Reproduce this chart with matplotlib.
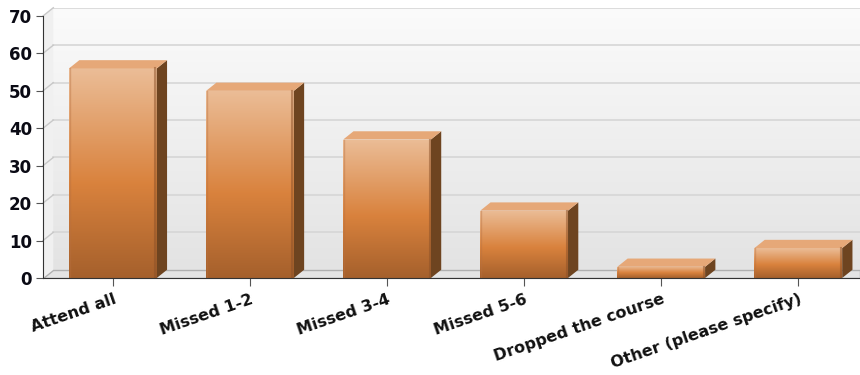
import numpy as np
import matplotlib
matplotlib.use('Agg')
import matplotlib.pyplot as plt
from matplotlib.patches import Polygon
from matplotlib.colors import LinearSegmentedColormap

# datos del grafico
categorias = ['Attend all', 'Missed 1-2', 'Missed 3-4', 'Missed 5-6',
              'Dropped the course', 'Other (please specify)']
valores = [56, 50, 37, 18, 3, 8]
y_ticks = [0, 10, 20, 30, 40, 50, 60, 70]

# figura 860x375
fig = plt.figure(figsize=(8.6, 3.75), dpi=100)
x_ini, x_fin = -0.51, 5.45
y_max = 70
dx, dy = 0.075, 2.2   # profundidad del efecto 3D
ax = fig.add_axes([43 / 860, (375 - 278) / 375, (860 - 43) / 860,
                   (y_max + dy) * 3.743 / 375])
ax.set_xlim(x_ini, x_fin)
ax.set_ylim(0, y_max + dy)
ax.set_facecolor('white')

# pared del fondo con degradado
pared = np.linspace(0, 1, 256).reshape(-1, 1)
cmap_pared = LinearSegmentedColormap.from_list('pared', ['#e3e3e3', '#fbfbfb'])
ax.imshow(pared, extent=[x_ini + dx, x_fin, dy, y_max + dy], origin='lower',
          aspect='auto', cmap=cmap_pared, zorder=0)

# lineas de la cuadricula en la pared y en el lado izquierdo
for t in y_ticks[1:]:
    ax.plot([x_ini + dx, x_fin], [t + dy, t + dy], color='#d6d6d6', lw=1.2, zorder=1)
    ax.plot([x_ini, x_ini + dx], [t, t + dy], color='#c8c8c8', lw=1, zorder=1, clip_on=False)
ax.add_patch(Polygon([[x_ini, 0], [x_ini + dx, dy], [x_ini + dx, y_max + dy], [x_ini, y_max]],
                     closed=True, facecolor='#f0f0f0', edgecolor='none', zorder=0.5))

# piso
ax.add_patch(Polygon([[x_ini, 0], [x_fin, 0], [x_fin, dy], [x_ini + dx, dy]],
                     closed=True, facecolor='#e4e4e4', edgecolor='#b0b0b0', lw=1, zorder=1))

# barras con degradado
cmap_barra = LinearSegmentedColormap.from_list(
    'barra', [(0, '#a5602c'), (0.45, '#d9823d'), (1, '#ebbd97')])
ancho = 0.64
x = np.arange(len(categorias))
barras = ax.bar(x, valores, width=ancho, color='none', zorder=3)
grad = np.linspace(0, 1, 256).reshape(-1, 1)
for b, v in zip(barras, valores):
    x0 = b.get_x()
    x1 = x0 + b.get_width()
    img = ax.imshow(grad, extent=[x0, x1, 0, v], origin='lower', aspect='auto',
                    cmap=cmap_barra, zorder=3)
    img.set_clip_path(b)
    # cara lateral
    ax.add_patch(Polygon([[x1, 0], [x1 + dx, dy], [x1 + dx, v + dy], [x1, v]],
                         closed=True, facecolor='#6e4420', edgecolor='none', zorder=3))
    # cara superior
    ax.add_patch(Polygon([[x0, v], [x1, v], [x1 + dx, v + dy], [x0 + dx, v + dy]],
                         closed=True, facecolor='#e6a878', edgecolor='none', zorder=3))
    # sombra ligera en los bordes de la cara frontal
    ax.plot([x1 - 0.01, x1 - 0.01], [0, v], color='#8a5028', lw=1.5, alpha=0.5, zorder=3.5)
    ax.plot([x0 + 0.005, x0 + 0.005], [0, v], color='#b87040', lw=1, alpha=0.4, zorder=3.5)

ax.set_xlim(x_ini, x_fin)
ax.set_ylim(0, y_max + dy)

# ejes
for s in ['top', 'right']:
    ax.spines[s].set_visible(False)
ax.spines['left'].set_bounds(0, y_max)
ax.spines['left'].set_color('#333333')
ax.spines['bottom'].set_color('#333333')
ax.spines['left'].set_zorder(5)
ax.spines['bottom'].set_zorder(5)

ax.set_yticks(y_ticks)
ax.set_yticklabels([str(t) for t in y_ticks], fontsize=12, fontweight='heavy', color='#0a0a14')
ax.set_xticks(x)
ax.set_xticklabels(categorias, rotation=19, ha='right', rotation_mode='anchor',
                   fontsize=11.5, fontweight='bold', color='#111111')
ax.tick_params(axis='y', length=5, color='#555555', pad=3)
ax.tick_params(axis='x', length=6, color='#555555', pad=4)

plt.savefig('out.png', dpi=100)
